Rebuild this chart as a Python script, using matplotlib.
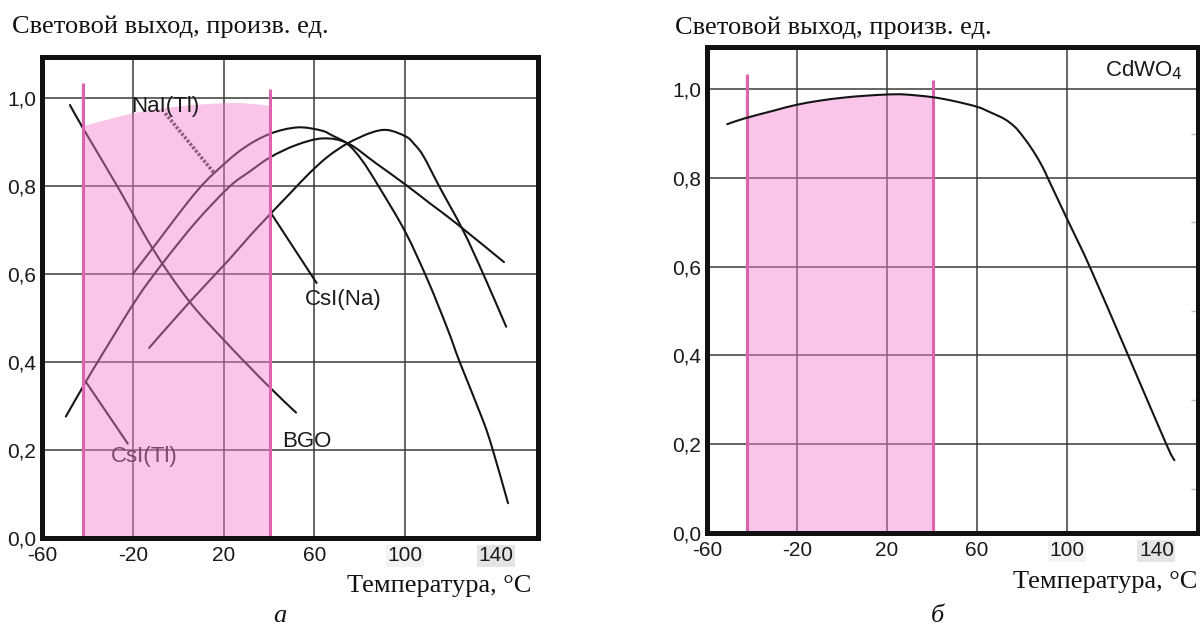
import numpy as np
import matplotlib
matplotlib.use("Agg")
import matplotlib.pyplot as plt
from matplotlib import font_manager as fm
from matplotlib.ticker import FixedLocator
from matplotlib.path import Path
from matplotlib.patches import PathPatch, Rectangle

# ---------------- data ----------------
X_TICKS = [-60, -20, 20, 60, 100, 140]
X_TICK_LABELS = ["-60", "-20", "20", "60", "100", "140"]
Y_TICKS = [0.0, 0.2, 0.4, 0.6, 0.8, 1.0]
Y_TICK_LABELS = ["0,0", "0,2", "0,4", "0,6", "0,8", "1,0"]
GRID_X = [-20, 20, 60, 100]
GRID_Y = [0.2, 0.4, 0.6, 0.8, 1.0]

BGO_T = [-47.7, -41.8, -26.0, -11.3, 5.0, 22.3, 39.2, 51.9]
BGO_L = [0.984, 0.930, 0.792, 0.658, 0.537, 0.438, 0.348, 0.285]

NAI_T = [-20.0, -11.3, 0.0, 8.5, 15.8, 28.0, 40.2, 52.5, 63.0, 68.1, 74.7,
         81.0, 88.2, 100.0, 110.0, 118.8, 124.0, 134.2, 138.6, 145.3]
NAI_L = [0.600, 0.658, 0.735, 0.790, 0.829, 0.883, 0.918, 0.933, 0.926, 0.914, 0.895,
         0.858, 0.800, 0.696, 0.585, 0.473, 0.400, 0.268, 0.200, 0.079]

CSTL_T = [-49.5, -40.7, -34.9, -18.6, -6.9, 7.8, 22.5, 31.3, 40.5, 52.0, 63.7,
          74.7, 87.0, 100.4, 111.0, 122.5, 143.5]
CSTL_L = [0.276, 0.355, 0.405, 0.541, 0.624, 0.718, 0.798, 0.832, 0.865, 0.893, 0.908,
          0.897, 0.852, 0.802, 0.760, 0.715, 0.627]

CSNA_T = [-12.8, 5.0, 22.3, 31.3, 40.9, 50.0, 58.0, 66.0, 74.7, 85.0, 92.3,
          100.4, 104.0, 108.0, 115.1, 125.4, 134.2, 144.5]
CSNA_L = [0.432, 0.536, 0.632, 0.685, 0.738, 0.787, 0.830, 0.867, 0.897, 0.921, 0.927,
          0.912, 0.895, 0.868, 0.798, 0.700, 0.602, 0.480]

CDWO_T = [-51.0, -43.4, -30.0, -20.8, -10.0, 0.9, 10.0, 20.4, 28.1, 40.3, 50.0,
          60.4, 66.0, 72.3, 77.0, 80.8, 85.0, 89.3, 92.0, 100.4, 110.5, 127.6, 144.4, 148.0]
CDWO_L = [0.921, 0.934, 0.952, 0.964, 0.974, 0.981, 0.985, 0.988, 0.988, 0.982, 0.973,
          0.960, 0.948, 0.933, 0.915, 0.892, 0.862, 0.825, 0.796, 0.706, 0.598, 0.398, 0.200, 0.164]

PINK_T = [-42.0, 40.5]          # working temperature range
PINK_LINE_TOP = [1.035, 1.02]

# labels: text, position, leader line (from, to)
LABELS_A = [
    ("NaI(Tl)", (-5.7, 0.980), ((-5.7, 0.965), (15.9, 0.829))),
    ("CsI(Na)", (72.8, 0.541), ((40.9, 0.738), (60.9, 0.580))),
    ("CsI(Tl)", (-15.0, 0.185), ((-40.7, 0.355), (-22.3, 0.215))),
    ("BGO", (56.7, 0.219), None),
]
LABEL_B = ("CdWO$_4$", (152.0, 1.028))

TITLE_Y = "Световой выход, произв. ед."
TITLE_X = "Температура, °C"
PANEL_NAMES = ["а", "б"]

# ---------------- styling ----------------
names = {f.name for f in fm.fontManager.ttflist}
if "Liberation Sans Narrow" in names:
    TICK_FONT, TICK_SIZE = ["Liberation Sans Narrow", "DejaVu Sans"], 18
else:
    TICK_FONT, TICK_SIZE = ["Liberation Sans", "DejaVu Sans"], 15
SERIF = ["Liberation Serif", "DejaVu Serif"]
SANS = ["Liberation Sans", "DejaVu Sans"]
LABEL_SIZE = 16

PINK_FILL = "#f47fcf"
PINK_EDGE = "#dc62ae"
CURVE_C = "#151515"
GRID_C = "#3a3a3a"
TEXT_C = "#1a1a1a"

fig = plt.figure(figsize=(12, 6.25), dpi=100)
W, H = 1200.0, 625.0


def make_axes(l, t, r, b):
    return fig.add_axes([l / W, 1 - b / H, (r - l) / W, (b - t) / H])


axA = make_axes(42, 57, 538, 538)
axB = make_axes(707, 47, 1198, 533)


def smooth_verts(T, L):
    """Bezier (Catmull-Rom) path running through the read points."""
    P = np.column_stack([T, L]).astype(float)
    n = len(P)
    verts = [P[0]]
    codes = [Path.MOVETO]
    for i in range(n - 1):
        p0 = P[i - 1] if i > 0 else P[i]
        p1, p2 = P[i], P[i + 1]
        p3 = P[i + 2] if i + 2 < n else P[i + 1]
        c1 = p1 + (p2 - p0) / 6.0
        c2 = p2 - (p3 - p1) / 6.0
        verts += [c1, c2, p2]
        codes += [Path.CURVE4] * 3
    return verts, codes


def draw_curve(ax, T, L, z, lw=1.5, color=CURVE_C):
    verts, codes = smooth_verts(T, L)
    ax.add_patch(PathPatch(Path(verts, codes), fill=False, edgecolor=color,
                           lw=lw, zorder=z, capstyle="round", joinstyle="round"))


def draw_pink(ax, z):
    verts, codes = smooth_verts(CDWO_T, CDWO_L)
    verts = [(CDWO_T[0], 0.0)] + [tuple(v) for v in verts] + [(CDWO_T[-1], 0.0), (CDWO_T[0], 0.0)]
    codes = [Path.MOVETO] + [Path.LINETO] + codes[1:] + [Path.LINETO, Path.CLOSEPOLY]
    patch = PathPatch(Path(verts, codes), facecolor=PINK_FILL, alpha=0.45,
                      edgecolor="none", zorder=z)
    ax.add_patch(patch)
    clip = Rectangle((PINK_T[0], 0), PINK_T[1] - PINK_T[0], 2.0,
                     transform=ax.transData)
    patch.set_clip_path(clip)
    ax.vlines(PINK_T, 0, PINK_LINE_TOP, color=PINK_EDGE, lw=2.2, zorder=z + 1)


def setup(ax, ytop):
    ax.set_xlim(-60, 158.5)
    ax.set_ylim(0, ytop)
    ax.set_xticks(X_TICKS)
    ax.set_xticklabels(X_TICK_LABELS, fontfamily=TICK_FONT, fontsize=TICK_SIZE,
                       color=TEXT_C)
    ax.set_yticks(Y_TICKS)
    ax.set_yticklabels(Y_TICK_LABELS, fontfamily=TICK_FONT, fontsize=TICK_SIZE,
                       color=TEXT_C)
    ax.tick_params(axis="x", length=0, pad=6)
    ax.tick_params(axis="y", length=0, pad=4)
    for s in ax.spines.values():
        s.set_linewidth(3.6)
        s.set_color("#111111")
        s.set_zorder(10)
    for gx in GRID_X:
        ax.axvline(gx, color=GRID_C, lw=1.1, zorder=1)
    for gy in GRID_Y:
        ax.axhline(gy, color=GRID_C, lw=1.1, zorder=1)
    for lbl in ax.get_xticklabels():
        if lbl.get_text() == "140":
            lbl.set_bbox(dict(facecolor="#e4e4e4", edgecolor="none", pad=1.0))
        elif lbl.get_text() == "100":
            lbl.set_bbox(dict(facecolor="#f3f3f3", edgecolor="none", pad=1.0))


# ---------------- panel a ----------------
setup(axA, 1.093)
for T, L in [(BGO_T, BGO_L), (NAI_T, NAI_L), (CSTL_T, CSTL_L), (CSNA_T, CSNA_L)]:
    draw_curve(axA, T, L, 2)

for text, (tx, ty), leader in LABELS_A:
    if text == "NaI(Tl)":
        (x0, y0), (x1, y1) = leader
        axA.plot([x0, x1], [y0, y1], color="#3c3c3c", lw=2.6,
                 linestyle=(0, (0.7, 0.5)), zorder=2)
        axA.text(tx, ty, text, ha="center", va="center", fontsize=LABEL_SIZE,
                 family=SANS, color=TEXT_C, zorder=6)
    else:
        if leader is not None:
            (x0, y0), (x1, y1) = leader
            axA.plot([x0, x1], [y0, y1], color=CURVE_C, lw=1.5, zorder=2)
        axA.text(tx, ty, text, ha="center", va="center", fontsize=LABEL_SIZE,
                 family=SANS, color=TEXT_C, zorder=2)

draw_pink(axA, 3)

# ---------------- panel b ----------------
setup(axB, 1.095)
draw_pink(axB, 2)
draw_curve(axB, CDWO_T, CDWO_L, 4)
axB.text(LABEL_B[1][0], LABEL_B[1][1], LABEL_B[0], ha="right", va="baseline",
         fontsize=LABEL_SIZE, family=SANS, color=TEXT_C, zorder=6)
axB.yaxis.set_minor_locator(FixedLocator([0.1, 0.3, 0.5, 0.7, 0.9]))
axB.tick_params(axis="y", which="minor", left=False, right=True, direction="in",
                length=5, width=1, color="#bbbbbb")

# ---------------- figure texts ----------------
fig.text(12 / W, 1 - 33 / H, TITLE_Y, family=SERIF, fontsize=19, ha="left",
         va="baseline", color="#111111")
fig.text(675 / W, 1 - 34 / H, TITLE_Y, family=SERIF, fontsize=19, ha="left",
         va="baseline", color="#111111")
fig.text(531 / W, 1 - 592 / H, TITLE_X, family=SERIF, fontsize=19, ha="right",
         va="baseline", color="#111111")
fig.text(1197 / W, 1 - 588 / H, TITLE_X, family=SERIF, fontsize=19, ha="right",
         va="baseline", color="#111111")
fig.text(280 / W, 1 - 622 / H, PANEL_NAMES[0], family=SERIF, fontsize=19,
         style="italic", ha="center", va="baseline", color="#111111")
fig.text(937 / W, 1 - 622 / H, PANEL_NAMES[1], family=SERIF, fontsize=19,
         style="italic", ha="center", va="baseline", color="#111111")

fig.savefig("out.png", dpi=100)
